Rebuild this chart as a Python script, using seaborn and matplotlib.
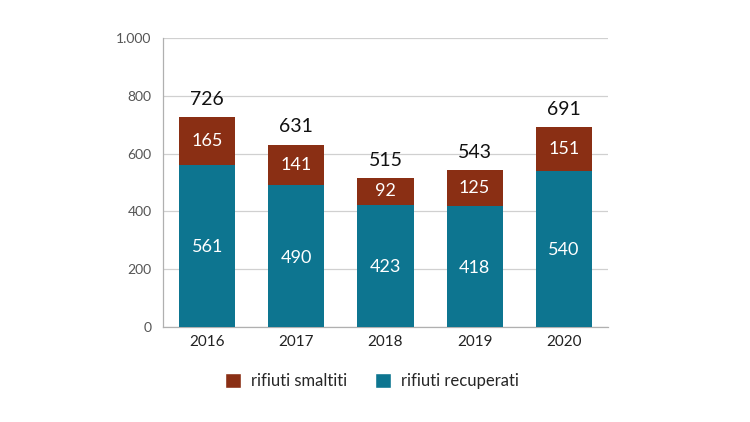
import matplotlib
matplotlib.use("Agg")
import matplotlib.pyplot as plt
import seaborn as sns
import pandas as pd
from matplotlib.patches import Patch
from matplotlib.ticker import FuncFormatter

years = ["2016", "2017", "2018", "2019", "2020"]
recuperati = [561, 490, 423, 418, 540]
smaltiti = [165, 141, 92, 125, 151]
totali = [r + s for r, s in zip(recuperati, smaltiti)]

RED = "#8a2f14"
TEAL = "#0d7590"

sns.set_theme(style="white")
plt.rcParams["font.family"] = ["Lato", "DejaVu Sans"]

df = pd.DataFrame({"anno": years, "recuperati": recuperati,
                   "smaltiti": smaltiti, "totale": totali})

fig = plt.figure(figsize=(7.5, 4.22), dpi=100)
ax = fig.add_axes([0.217, 0.225, 0.594, 0.685])

sns.barplot(data=df, x="anno", y="totale", color=RED, width=0.63,
            saturation=1, ax=ax, zorder=3)
sns.barplot(data=df, x="anno", y="recuperati", color=TEAL, width=0.63,
            saturation=1, ax=ax, zorder=3)
for p in ax.patches:
    p.set_edgecolor("none")

ax.set_ylim(0, 1000)
ax.set_xlim(-0.5, 4.5)
ax.set_yticks([0, 200, 400, 600, 800, 1000])
ax.yaxis.set_major_formatter(FuncFormatter(lambda v, _: f"{int(v):,}".replace(",", ".")))
ax.grid(axis="y", color="#d0d0d0", linewidth=0.9, zorder=0)
ax.set_axisbelow(True)
for s in ["top", "right"]:
    ax.spines[s].set_visible(False)
for s in ["left", "bottom"]:
    ax.spines[s].set_color("#b0b0b0")
    ax.spines[s].set_linewidth(0.9)
ax.set_xlabel("")
ax.set_ylabel("")
ax.tick_params(axis="y", labelsize=10, colors="#555555", length=0, pad=8)
ax.tick_params(axis="x", labelsize=11, colors="#222222", length=0, pad=6)

for i in range(len(years)):
    ax.text(i, recuperati[i] / 2 - 5, str(recuperati[i]), ha="center", va="center",
            color="white", fontsize=13)
    ax.text(i, recuperati[i] + smaltiti[i] / 2, str(smaltiti[i]), ha="center",
            va="center", color="white", fontsize=13)
    ax.text(i, totali[i] + 32, str(totali[i]), ha="center", va="bottom",
            color="#111111", fontsize=14)

handles = [Patch(facecolor=RED, label="rifiuti smaltiti"),
           Patch(facecolor=TEAL, label="rifiuti recuperati")]
fig.legend(handles=handles, loc="center", bbox_to_anchor=(0.496, 0.097), ncol=2,
           frameon=False, fontsize=12, handlelength=0.95, handleheight=0.95,
           columnspacing=1.7, handletextpad=0.6)

fig.savefig("out.png", dpi=100)
